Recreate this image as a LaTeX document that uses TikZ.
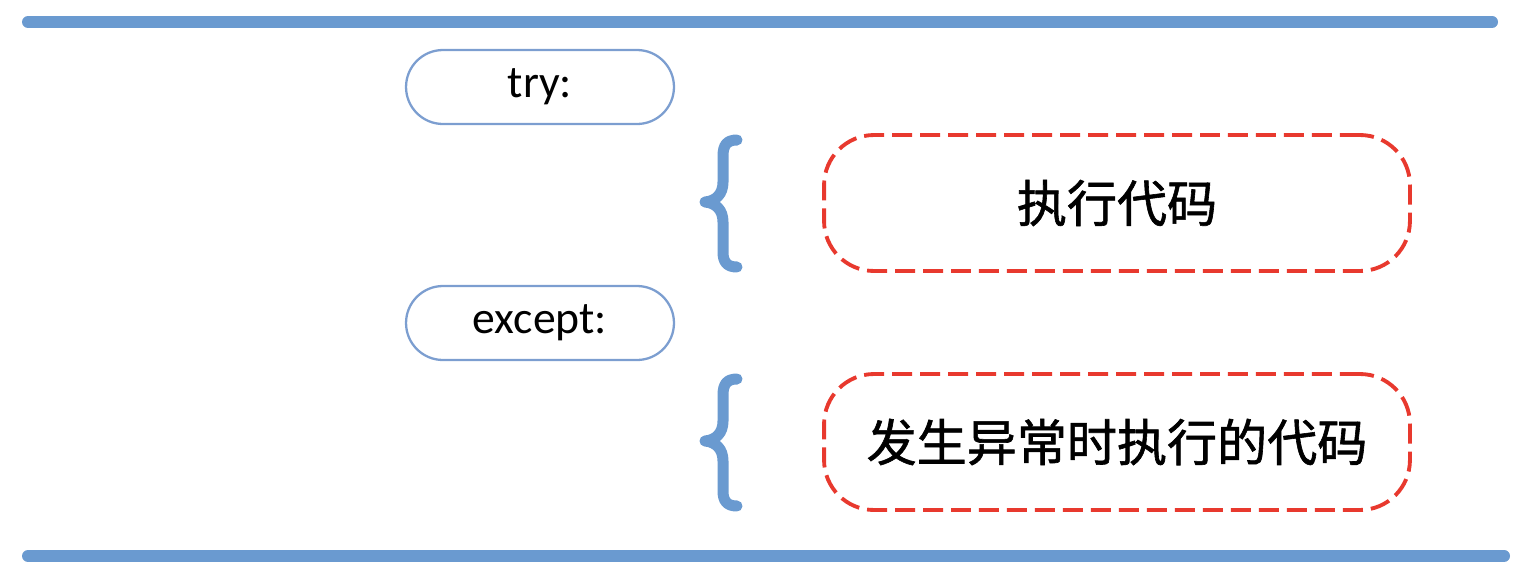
\documentclass[tikz,border=0pt]{standalone}
\usepackage{fontspec}
\setmainfont{Carlito}
\newfontfamily\cjk[FakeBold=1.2]{Noto Sans CJK SC}
\definecolor{barblue}{HTML}{6A9AD0}
\definecolor{boxblue}{HTML}{7C9ED0}
\definecolor{dashred}{HTML}{E8392E}
\begin{document}
\begin{tikzpicture}[x=0.02cm,y=-0.02cm,
  bar/.style={barblue,line width=0.24cm,line cap=round},
  kwbox/.style={draw=boxblue,line width=1.3pt,rounded corners=0.74cm,
    minimum width=5.36cm,minimum height=1.48cm,inner sep=0pt,
    font=\fontsize{26}{30}\selectfont},
  codebox/.style={draw=dashred,line width=2.2pt,rounded corners=1cm,
    dash pattern=on 0.4cm off 0.16cm,
    minimum width=11.72cm,minimum height=2.72cm,inner sep=0pt,
    font=\cjk\fontsize{28.5}{34}\selectfont},
  brace/.style={barblue,line width=0.22cm,line cap=round,line join=round}]
\useasboundingbox (0,0) rectangle (1514,582);
% bars
\coordinate (t1) at (28,22);
\coordinate (t2) at (1492,22);
\coordinate (b1) at (28,556);
\coordinate (b2) at (1504,556);
\draw[bar] (t1) -- (t2);
\draw[bar] (b1) -- (b2);
% keyword boxes
\node[kwbox] (try) at (540,87) {try:};
\node[kwbox] (except) at (540,323) {except:};
% code boxes
\node[codebox] (code1) at (1117,203) {执行代码};
\node[codebox] (code2) at (1117,442) {发生异常时执行的代码};
% braces
\draw[brace] (737,140) .. controls (727,140) and (723,145) .. (723,156)
  -- (723,182) .. controls (723,194) and (716,201) .. (705,202)
  .. controls (716,203) and (723,210) .. (723,222)
  -- (723,252) .. controls (723,262) and (727,267) .. (737,267);
\draw[brace] (737,379) .. controls (727,379) and (723,384) .. (723,395)
  -- (723,421) .. controls (723,433) and (716,440) .. (705,441)
  .. controls (716,442) and (723,449) .. (723,461)
  -- (723,491) .. controls (723,501) and (727,506) .. (737,506);
\end{tikzpicture}
\end{document}
